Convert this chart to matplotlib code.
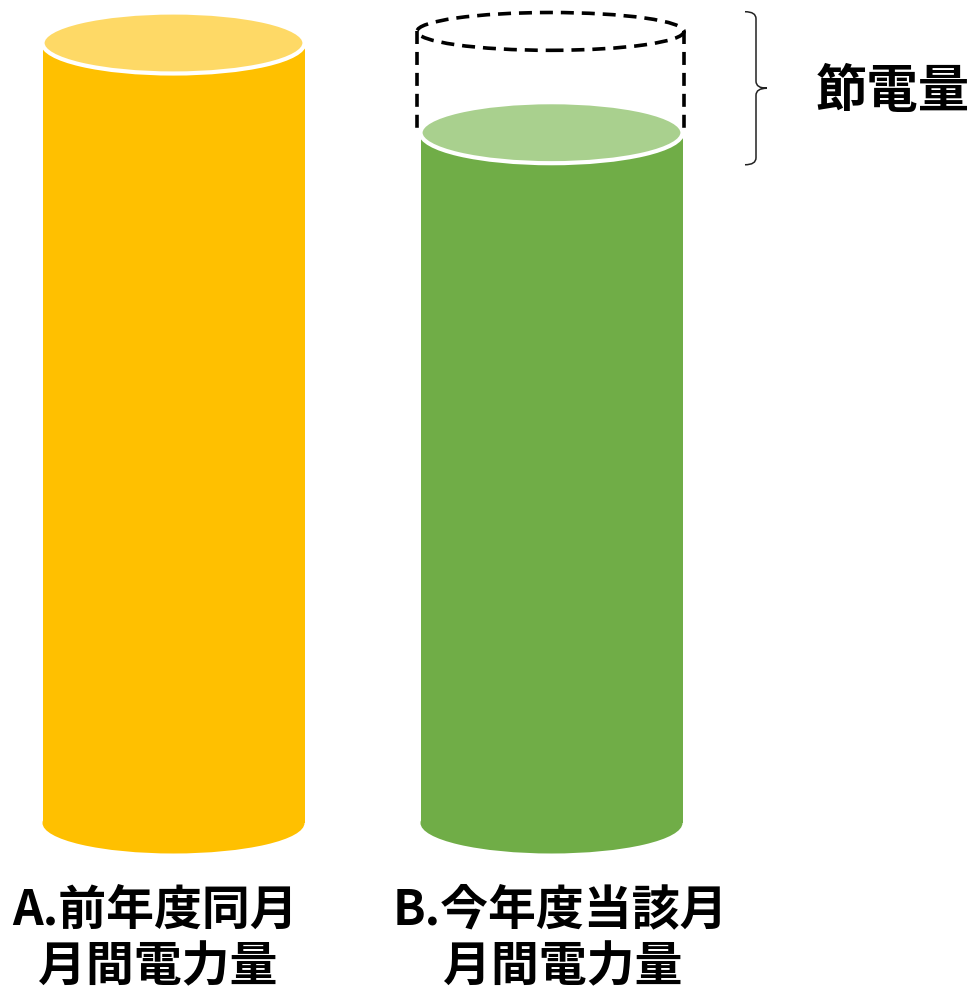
import matplotlib
matplotlib.use("Agg")
import matplotlib.pyplot as plt
from matplotlib.patches import Ellipse, Rectangle, PathPatch
from matplotlib.path import Path

# Datos: consumo del mes (valor relativo)
categorias = ["A.前年度同月\n月間電力量", "B.今年度当該月\n月間電力量"]
consumo = [100.0, 88.5]
etiqueta_ahorro = "節電量"

col_cuerpo = ["#FFC000", "#70AD47"]
col_tapa = ["#FED966", "#A9D08E"]

plt.rcParams['font.family'] = ['Noto Sans CJK JP', 'DejaVu Sans']

# Escala: pixeles de la figura -> unidades de datos
W_PX, H_PX = 979, 993
X0_PX, PASO_PX = 173.5, 378.0   # centro de la categoría 0, distancia entre categorías
Y0_PX, ESC_Y = 823.0, 7.8       # píxel del valor 0, píxeles por unidad

def px_x(p):
    return (p - X0_PX) / PASO_PX

def px_y(p):
    return (Y0_PX - p) / ESC_Y

fig = plt.figure(figsize=(W_PX / 100, H_PX / 100), dpi=100)
ax = fig.add_axes([0, 0, 1, 1])
ax.set_xlim(px_x(0), px_x(W_PX))
ax.set_ylim(px_y(H_PX), px_y(0))
ax.axis('off')

ancho = 262 / PASO_PX       # ancho del cilindro
alto_elip = 61 / ESC_Y      # altura de las elipses

for i, v in enumerate(consumo):
    # base
    ax.add_patch(Ellipse((i, 0), ancho, alto_elip, color=col_cuerpo[i], lw=0, zorder=1))
    # cuerpo
    ax.add_patch(Rectangle((i - ancho / 2, 0), ancho, v, color=col_cuerpo[i], lw=0, zorder=1))
    # tapa
    ax.add_patch(Ellipse((i, v), ancho, alto_elip, facecolor=col_tapa[i],
                         edgecolor='white', lw=3, zorder=2))

# cilindro punteado: consumo anterior sobre el actual
ancho_p = 267 / PASO_PX
alto_p = alto_elip * 0.62
xc = 1 - 1 / PASO_PX
yc = consumo[0] + (alto_elip - alto_p) / 2   # borde superior alineado con la tapa de A
guion = (0, (3.6, 2.2))
ax.add_patch(Ellipse((xc, yc), ancho_p, alto_p, facecolor='none',
                     edgecolor='black', lw=2.6, ls=guion, zorder=3))
for sx in (-1, 1):
    ax.plot([xc + sx * ancho_p / 2] * 2, [yc, consumo[1] + 0.4],
            color='black', lw=2.6, ls=guion, zorder=3)

# llave
y_sup = yc + alto_p / 2 + 0.1
y_inf = consumo[1] - alto_elip / 2 - 0.2
y_med = (y_sup + y_inf) / 2
xa, xb, xt = px_x(745), px_x(756), px_x(767)
dy = 7 / ESC_Y
verts = [(xa, y_sup), (xb, y_sup), (xb, y_sup - dy),
         (xb, y_med + dy),
         (xb, y_med), (xt, y_med), (xt, y_med),
         (xt, y_med), (xb, y_med), (xb, y_med - dy),
         (xb, y_inf + dy),
         (xb, y_inf), (xa, y_inf)]
codes = [Path.MOVETO, Path.CURVE3, Path.CURVE3,
         Path.LINETO,
         Path.CURVE3, Path.CURVE3, Path.MOVETO,
         Path.MOVETO, Path.CURVE3, Path.CURVE3,
         Path.LINETO,
         Path.CURVE3, Path.CURVE3]
ax.add_patch(PathPatch(Path(verts, codes), facecolor='none', edgecolor='#222222', lw=1.1))

ax.text(px_x(893), px_y(92), etiqueta_ahorro, fontsize=37, fontweight='bold',
        ha='center', va='center')

# etiquetas bajo cada cilindro
centros_txt = [155, 560]
for i, txt in enumerate(categorias):
    l1, l2 = txt.split("\n")
    ax.text(px_x(centros_txt[i]), px_y(910), l1, fontsize=34.5, fontweight='bold',
            ha='center', va='center')
    ax.text(px_x(centros_txt[i] + 3), px_y(967), l2, fontsize=34.5, fontweight='bold',
            ha='center', va='center')

fig.savefig("out.png", dpi=100)
